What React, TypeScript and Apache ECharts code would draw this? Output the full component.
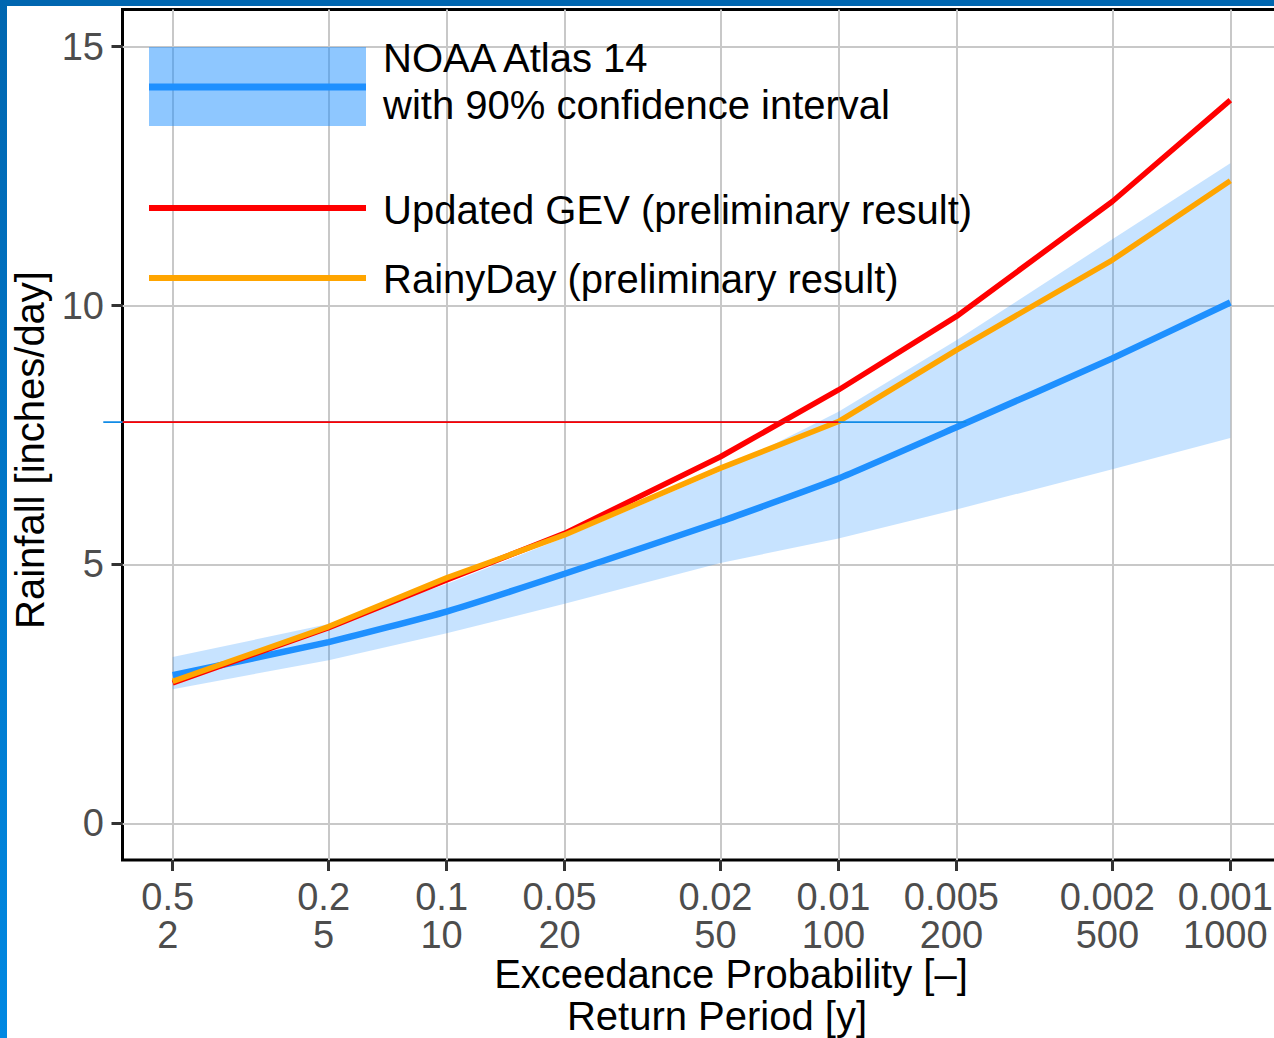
import React, { useEffect, useRef } from 'react';
import * as echarts from 'echarts';

// ---- data ----
const returnPeriods = [2, 5, 10, 20, 50, 100, 200, 500, 1000];
const probLabels = ['0.5', '0.2', '0.1', '0.05', '0.02', '0.01', '0.005', '0.002', '0.001'];
const periodLabels = ['2', '5', '10', '20', '50', '100', '200', '500', '1000'];
const yTicks = [0, 5, 10, 15];

const noaaMean = [2.86, 3.5, 4.09, 4.82, 5.83, 6.66, 7.65, 8.98, 10.06];
const noaaLower = [2.59, 3.15, 3.67, 4.24, 5.03, 5.5, 6.06, 6.84, 7.44];
const noaaUpper = [3.21, 3.85, 4.62, 5.52, 6.8, 7.95, 9.33, 11.28, 12.75];
const gevValues = [2.71, 3.78, 4.7, 5.6, 7.08, 8.37, 9.79, 12.01, 13.97];
const rainyValues = [2.74, 3.8, 4.74, 5.57, 6.86, 7.76, 9.14, 10.88, 12.41];

const refValue = 7.75;
const refBluePeriods = [1.33, 212];
const refRedPeriods = [1.49, 100];

const legendNoaa = ['NOAA Atlas 14', 'with 90% confidence interval'];
const legendGev = 'Updated GEV (preliminary result)';
const legendRainy = 'RainyDay (preliminary result)';
const xTitle1 = 'Exceedance Probability [–]';
const xTitle2 = 'Return Period [y]';
const yTitle = 'Rainfall [inches/day]';

const FONT = '"Liberation Sans", Arial, Helvetica, sans-serif';
const lx = (t: number) => Math.log10(t);

export default function App() {
  const ref = useRef<HTMLDivElement>(null);
  useEffect(() => {
    if (!ref.current) return;
    const chart = echarts.init(ref.current, null, { renderer: 'svg' });
    const xTickVals = returnPeriods.map(lx);
    const labelFor = (v: number) => {
      let best = 0;
      xTickVals.forEach((t, i) => {
        if (Math.abs(t - v) < Math.abs(xTickVals[best] - v)) best = i;
      });
      return probLabels[best] + '\n' + periodLabels[best];
    };
    const lineSeries = (name: string, periods: number[], vals: number[], color: string, width: number, extra: any = {}) => ({
      name,
      type: 'line',
      data: periods.map((t, i) => [lx(t), vals[i]]),
      symbol: 'none',
      lineStyle: { color, width },
      itemStyle: { color },
      silent: true,
      ...extra,
    });
    const option: any = {
      animation: false,
      backgroundColor: '#ffffff',
      grid: {
        show: true,
        left: 122.5,
        top: 9.5,
        width: 1158,
        height: 850.5,
        borderColor: '#000000',
        borderWidth: 3,
        backgroundColor: 'transparent',
        containLabel: false,
        outerBoundsMode: 'none',
      },
      xAxis: {
        type: 'value',
        min: 0.1729,
        max: 3.1281,
        axisLine: { show: false, onZero: false },
        axisTick: {
          show: true,
          length: 11,
          customValues: xTickVals,
          lineStyle: { color: '#333333', width: 3 },
        },
        axisLabel: {
          customValues: xTickVals,
          formatter: (v: number) => labelFor(v),
          color: '#4d4d4d',
          fontSize: 38,
          lineHeight: 38,
          margin: 18,
          padding: [0, 10, 0, 0],
          fontFamily: FONT,
        },
        splitLine: { show: true, lineStyle: { color: '#c8c8c8', width: 2 } },
      },
      yAxis: {
        type: 'value',
        min: -0.709,
        max: 15.719,
        axisLine: { show: false, onZero: false },
        axisTick: {
          show: true,
          length: 11,
          customValues: yTicks,
          lineStyle: { color: '#333333', width: 3 },
        },
        axisLabel: {
          customValues: yTicks,
          color: '#4d4d4d',
          fontSize: 38,
          margin: 18.5,
          fontFamily: FONT,
        },
        splitLine: { show: true, lineStyle: { color: '#c8c8c8', width: 2 } },
      },
      series: [
        {
          name: 'NOAA 90% CI',
          type: 'custom',
          silent: true,
          z: 1,
          data: [[lx(returnPeriods[0]), noaaLower[0]]],
          renderItem: (params: any, api: any) => {
            const upperPts = returnPeriods.map((t, i) => api.coord([lx(t), noaaUpper[i]]));
            const lowerPts = returnPeriods.map((t, i) => api.coord([lx(t), noaaLower[i]])).reverse();
            return {
              type: 'polygon',
              shape: { points: upperPts.concat(lowerPts) },
              style: { fill: 'rgba(30,144,255,0.25)' },
            };
          },
        },
        lineSeries('NOAA Atlas 14', returnPeriods, noaaMean, '#1e90ff', 6.5, { z: 3, smooth: 0.15 }),
        lineSeries('Updated GEV', returnPeriods, gevValues, '#ff0000', 5.5, { z: 4 }),
        lineSeries('RainyDay', returnPeriods, rainyValues, '#ffa500', 5.5, { z: 5 }),
        {
          name: 'reference level',
          type: 'custom',
          silent: true,
          clip: false,
          z: 6,
          data: [[lx(refRedPeriods[0]), refValue]],
          renderItem: (params: any, api: any) => {
            const b0 = api.coord([lx(refBluePeriods[0]), refValue]);
            const b1 = api.coord([lx(refBluePeriods[1]), refValue]);
            const r0 = api.coord([lx(refRedPeriods[0]), refValue]);
            const r1 = api.coord([lx(refRedPeriods[1]), refValue]);
            return {
              type: 'group',
              children: [
                { type: 'line', shape: { x1: b0[0], y1: b0[1], x2: b1[0], y2: b1[1] }, style: { stroke: '#118be6', lineWidth: 1.8 } },
                { type: 'line', shape: { x1: r0[0], y1: r0[1], x2: r1[0], y2: r1[1] }, style: { stroke: '#ff0000', lineWidth: 1.8 } },
              ],
            };
          },
        },
      ],
      graphic: [
        { type: 'rect', z: 100, shape: { x: 0, y: 0, width: 1274, height: 6 }, style: { fill: '#0066b0' } },
        {
          type: 'rect',
          z: 100,
          shape: { x: 0, y: 0, width: 7, height: 1038 },
          style: {
            fill: new echarts.graphic.LinearGradient(0, 0, 0, 1, [
              { offset: 0, color: '#0066b0' },
              { offset: 1, color: '#0088e2' },
            ]),
          },
        },
        { type: 'rect', z: 50, shape: { x: 149, y: 47, width: 217, height: 79 }, style: { fill: 'rgba(30,144,255,0.5)' } },
        { type: 'line', z: 51, shape: { x1: 149, y1: 87, x2: 366, y2: 87 }, style: { stroke: '#1e90ff', lineWidth: 7 } },
        { type: 'line', z: 51, shape: { x1: 149, y1: 208, x2: 366, y2: 208 }, style: { stroke: '#ff0000', lineWidth: 6 } },
        { type: 'line', z: 51, shape: { x1: 149, y1: 278, x2: 366, y2: 278 }, style: { stroke: '#ffa500', lineWidth: 6 } },
        { type: 'text', z: 51, x: 383, y: 58, style: { text: legendNoaa[0], fill: '#000', font: `40px ${FONT}`, textVerticalAlign: 'middle' } },
        { type: 'text', z: 51, x: 383, y: 105, style: { text: legendNoaa[1], fill: '#000', font: `40px ${FONT}`, textVerticalAlign: 'middle' } },
        { type: 'text', z: 51, x: 383, y: 210, style: { text: legendGev, fill: '#000', font: `40px ${FONT}`, textVerticalAlign: 'middle' } },
        { type: 'text', z: 51, x: 383, y: 279, style: { text: legendRainy, fill: '#000', font: `40px ${FONT}`, textVerticalAlign: 'middle' } },
        { type: 'text', z: 51, x: 731, y: 974, style: { text: xTitle1, fill: '#000', font: `40px ${FONT}`, textAlign: 'center', textVerticalAlign: 'middle' } },
        { type: 'text', z: 51, x: 717, y: 1016, style: { text: xTitle2, fill: '#000', font: `40px ${FONT}`, textAlign: 'center', textVerticalAlign: 'middle' } },
        {
          type: 'text',
          z: 51,
          x: 30,
          y: 450,
          rotation: Math.PI / 2,
          style: { text: yTitle, fill: '#000', font: `40px ${FONT}`, textAlign: 'center', textVerticalAlign: 'middle' },
        },
      ],
    };
    chart.setOption(option);
    return () => chart.dispose();
  }, []);
  return <div ref={ref} style={{ position: 'fixed', left: 0, top: 0, width: 1274, height: 1038, background: '#fff' }} />;
}
